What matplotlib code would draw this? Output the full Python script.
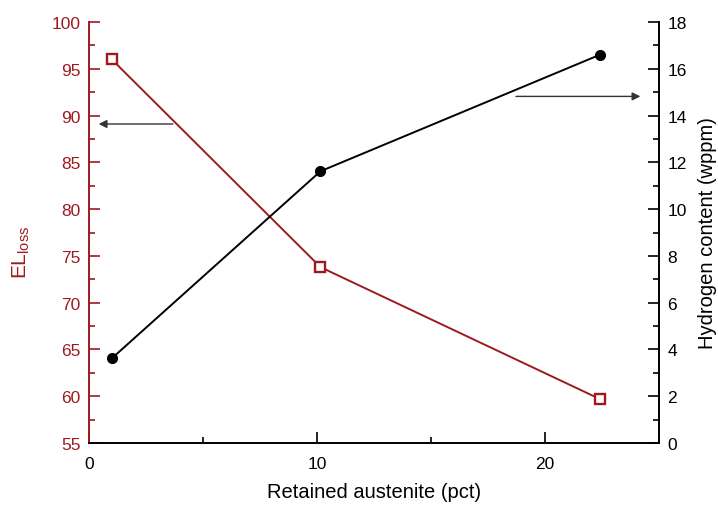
import matplotlib
matplotlib.use('Agg')
import matplotlib.pyplot as plt
from matplotlib.ticker import MultipleLocator

plt.rcParams['font.family'] = ['Liberation Sans', 'DejaVu Sans']

# data
retained_austenite = [1.0, 10.15, 22.4]
el_loss = [96.0, 73.8, 59.7]
hydrogen = [3.62, 11.62, 16.6]

dark_red = '#9E1A20'

fig = plt.figure(figsize=(7.18, 5.06), dpi=100)
ax = fig.add_axes([0.124, 0.1225, 0.794, 0.832])
ax2 = ax.twinx()

ax.plot(retained_austenite, el_loss, color=dark_red, lw=1.4, marker='s', ms=7,
        mfc='white', mec=dark_red, mew=1.7, zorder=3)
ax2.plot(retained_austenite, hydrogen, color='black', lw=1.4, marker='o', ms=7,
         mfc='black', mec='black', zorder=3)

ax.set_xlim(0, 25)
ax.set_ylim(55, 100)
ax2.set_ylim(0, 18)

ax.xaxis.set_major_locator(MultipleLocator(10))
ax.xaxis.set_minor_locator(MultipleLocator(5))
ax.yaxis.set_major_locator(MultipleLocator(5))
ax.yaxis.set_minor_locator(MultipleLocator(2.5))
ax2.yaxis.set_major_locator(MultipleLocator(2))
ax2.yaxis.set_minor_locator(MultipleLocator(1))

for a in (ax, ax2):
    a.spines['top'].set_visible(False)
    a.tick_params(which='major', direction='in', length=8, width=1.2, labelsize=12.5)
    a.tick_params(which='minor', direction='in', length=4.5, width=1.2)

ax2.spines['left'].set_visible(False)
ax.spines['right'].set_visible(False)
ax.spines['left'].set_color(dark_red)
ax.spines['left'].set_linewidth(1.4)
ax.spines['bottom'].set_linewidth(1.4)
ax2.spines['right'].set_linewidth(1.4)
ax2.spines['bottom'].set_visible(False)
ax.tick_params(axis='y', which='both', colors=dark_red, labelcolor=dark_red)
ax.tick_params(axis='x', which='both', top=False)
ax.tick_params(axis='x', pad=9)
ax.tick_params(axis='y', pad=6)
ax2.tick_params(axis='y', pad=6)

ax.set_xlabel('Retained austenite (pct)', fontsize=14.5, labelpad=8)
ax.set_ylabel('EL$_{\\mathregular{loss}}$', fontsize=15, color=dark_red)
ax.yaxis.set_label_coords(-0.1, 0.455)
ax2.set_ylabel('Hydrogen content (wppm)', fontsize=14.5, labelpad=8)

# arrows marking which axis each curve belongs to
ax.annotate('', xy=(0.3, 89.1), xytext=(3.8, 89.1),
            arrowprops=dict(arrowstyle='-|>', color='#333333', lw=1.0,
                            mutation_scale=12))
ax2.annotate('', xy=(24.3, 14.82), xytext=(18.6, 14.82),
             arrowprops=dict(arrowstyle='-|>', color='#333333', lw=1.0,
                             mutation_scale=12))

fig.savefig('out.png', dpi=100)
